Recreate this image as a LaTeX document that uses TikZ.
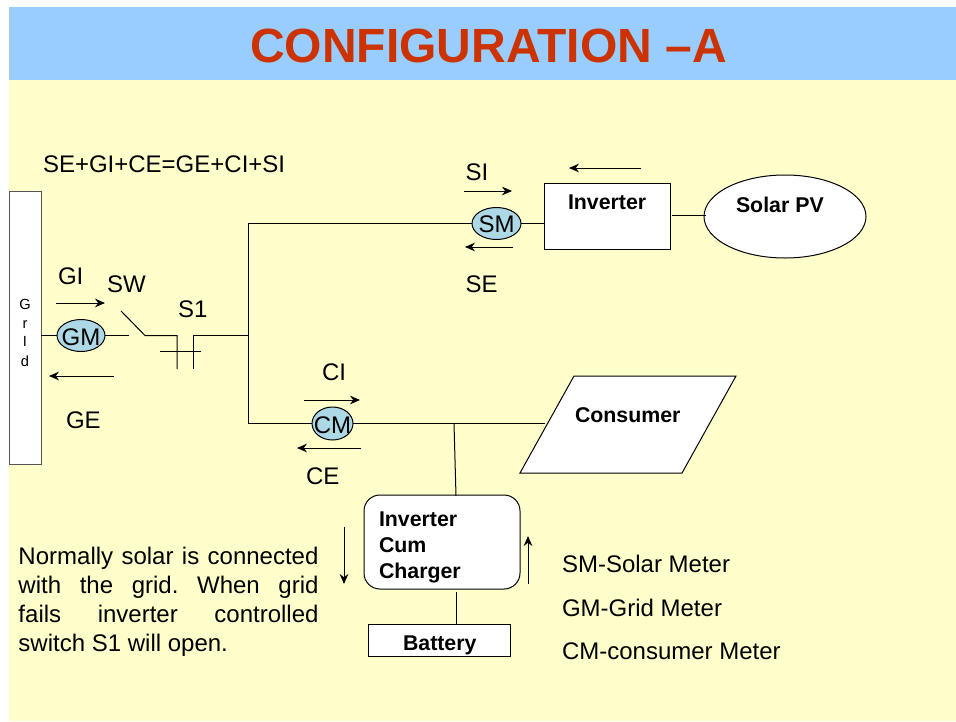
\documentclass[tikz,border=0pt]{standalone}
\usepackage{fontspec}
\setmainfont{Liberation Sans}
\usetikzlibrary{shapes.geometric,arrows.meta}
\definecolor{bandblue}{HTML}{99CCFF}
\definecolor{paleyellow}{HTML}{FFFFCC}
\definecolor{titlered}{HTML}{CC3300}
\definecolor{meterblue}{HTML}{ADD8E6}
\definecolor{greyedge}{HTML}{555555}
\tikzset{
  wire/.style={draw=black,line width=0.75pt},
  flow/.style={draw=black,line width=0.75pt,-{Stealth[length=7.5pt,width=6.5pt]}},
  shapebox/.style={draw=black,fill=white,line width=0.75pt,inner sep=0pt,outer sep=0pt},
  meter/.style={ellipse,draw=black,fill=meterblue,line width=0.75pt,inner sep=0pt,outer sep=0pt},
  lab/.style={anchor=base west,inner sep=0pt,outer sep=0pt,font=\fontsize{18}{22}\selectfont},
  blab/.style={anchor=base west,inner sep=0pt,outer sep=0pt,font=\fontsize{16}{19}\selectfont\bfseries},
  mlab/.style={anchor=base,inner sep=0pt,outer sep=0pt,font=\fontsize{18}{22}\selectfont},
  gridlab/.style={anchor=base,inner sep=0pt,outer sep=0pt,font=\fontsize{11}{13}\selectfont},
}
\begin{document}
\begin{tikzpicture}[x=0.75pt,y=-0.75pt]
\useasboundingbox (0,0) rectangle (956,721);
\fill[white] (0,0) rectangle (956,721);
\fill[paleyellow] (9,80) rectangle (956,721);
\fill[bandblue] (9,7) rectangle (956,80);
\node[anchor=base,inner sep=0pt,font=\fontsize{36}{40}\selectfont\bfseries,text=titlered] (title) at (488.5,62) {CONFIGURATION –A};
\node[lab] (eqn) at (43,172) {SE+GI+CE=GE+CI+SI};
% grid
\node[shapebox,draw=greyedge,minimum width=24pt,minimum height=204.75pt] (grid) at (25,327.5) {};
\node[gridlab] (g1) at (25,309) {G};
\node[gridlab] (g2) at (25,328) {r};
\node[gridlab] (g3) at (25,346) {I};
\node[gridlab] (g4) at (25,366) {d};
% meters
\node[meter,minimum width=36pt,minimum height=24pt] (gm) at (81,335.5) {};
\node[mlab] (gmt) at (81,345) {GM};
\node[meter,minimum width=36.75pt,minimum height=24pt] (sm) at (496.5,223.5) {};
\node[mlab] (smt) at (496.5,232.5) {SM};
\node[meter,minimum width=30.75pt,minimum height=24.75pt] (cm) at (332.5,423.5) {};
\node[mlab] (cmt) at (332.5,433) {CM};
% boxes
\node[shapebox,minimum width=94.5pt,minimum height=49.5pt] (inv) at (607,216) {};
\node[blab] (invt) at (568,209) {Inverter};
\node[shapebox,ellipse,minimum width=121.5pt,minimum height=62.25pt] (pv) at (785,216.5) {};
\node[blab] (pvt) at (736,212) {Solar PV};
\node[shapebox,rounded corners=12pt,minimum width=117pt,minimum height=70.5pt] (icc) at (442,542) {};
\node[blab] (icc1) at (379,526) {Inverter};
\node[blab] (icc2) at (379,552) {Cum};
\node[blab] (icc3) at (379,578) {Charger};
\node[shapebox,minimum width=106.5pt,minimum height=24pt] (bat) at (439,640) {};
\node[blab] (batt) at (403,650) {Battery};
% consumer
\draw[shapebox] (574,376) coordinate (c1) -- (736,376) coordinate (c2) -- (682,473) coordinate (c3) -- (520,473) coordinate (c4) -- cycle;
\node[blab] (cons) at (575,422) {Consumer};
% wiring coordinates
\coordinate (busT) at (248,223.5);
\coordinate (busB) at (248,423.5);
\coordinate (busM) at (248,335.5);
\coordinate (swA) at (129,335.5);
\coordinate (swB) at (121,311);
\coordinate (swC) at (145,335.5);
\coordinate (s1a) at (177,335.5);
\coordinate (s1b) at (177,369);
\coordinate (s1c) at (193,369);
\coordinate (s1d) at (193,335.5);
\coordinate (barL) at (160,351.5);
\coordinate (barR) at (201,351.5);
\coordinate (consIn) at (545,423.5);
\coordinate (junc) at (454,423.5);
\coordinate (batTop) at (456,624);
\coordinate (iccBot) at (456,592);
\coordinate (iccTop) at (456,496);
\coordinate (invOut) at (672,215.5);
\coordinate (pvIn) at (706,215.5);
% wires
\draw[wire] (grid.east |- gm) -- (gm.west);
\draw[wire] (gm.east) -- (swA);
\draw[wire] (swB) -- (swC) -- (s1a) -- (s1b);
\draw[wire] (s1c) -- (s1d) -- (busM);
\draw[wire] (barL) -- (barR);
\draw[wire] (sm.west) -- (busT) -- (busB) -- (cm.west);
\draw[wire] (sm.east) -- (inv.west |- sm);
\draw[wire] (invOut) -- (pvIn);
\draw[wire] (cm.east) -- (consIn);
\draw[wire] (junc) -- (iccTop);
\draw[wire] (iccBot) -- (batTop);
% flow arrows
\coordinate (a1s) at (56,303); \coordinate (a1e) at (105,303);
\coordinate (a2s) at (114,376); \coordinate (a2e) at (49,376);
\coordinate (a3s) at (464,191); \coordinate (a3e) at (512,191);
\coordinate (a4s) at (513,247); \coordinate (a4e) at (465,247);
\coordinate (a5s) at (641,168); \coordinate (a5e) at (569,168);
\coordinate (a6s) at (304,400); \coordinate (a6e) at (360,400);
\coordinate (a7s) at (361,448); \coordinate (a7e) at (297,448);
\coordinate (a8s) at (344,527); \coordinate (a8e) at (344,584);
\coordinate (a9s) at (528,584); \coordinate (a9e) at (528,536);
\foreach \n in {1,...,9} \draw[flow] (a\n s) -- (a\n e);
% labels
\node[lab] (gi) at (58,284) {GI};
\node[lab] (sw) at (107,292) {SW};
\node[lab] (s1) at (178,317) {S1};
\node[lab] (ge) at (66,428) {GE};
\node[lab] (si) at (465.5,180) {SI};
\node[lab] (se) at (465.5,292) {SE};
\node[lab] (ci) at (322,380) {CI};
\node[lab] (ce) at (306,484) {CE};
\node[lab] (l1) at (562,572) {SM-Solar Meter};
\node[lab] (l2) at (562,616) {GM-Grid Meter};
\node[lab] (l3) at (562,659) {CM-consumer Meter};
\node[anchor=north west,inner sep=0pt,outer sep=0pt,text width=225pt,align=justify,font=\frenchspacing\fontsize{18}{21.75}\selectfont] (para) at (18.5,547)
 {Normally solar is connected\linebreak with the grid. When grid\linebreak fails inverter controlled\linebreak switch S1 will open.};
\end{tikzpicture}
\end{document}
